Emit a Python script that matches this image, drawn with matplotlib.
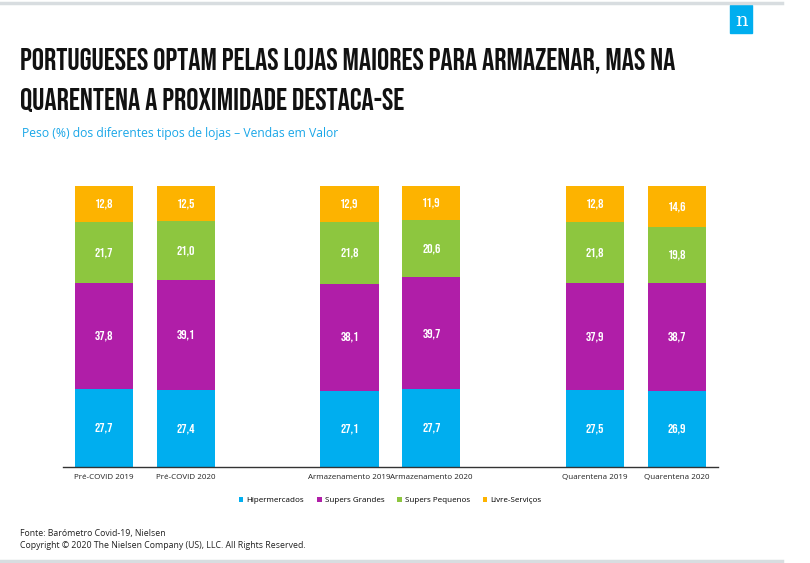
import numpy as np
import matplotlib.pyplot as plt
from matplotlib.patches import Rectangle

categories = ["Pré-COVID 2019", "Pré-COVID 2020", "Armazenamento 2019",
              "Armazenamento 2020", "Quarentena 2019", "Quarentena 2020"]
positions = [0, 1, 3, 4, 6, 7]
series = ["Hipermercados", "Supers Grandes", "Supers Pequenos", "Livre-Serviços"]
hiper = [27.7, 27.4, 27.1, 27.7, 27.5, 26.9]
supers_grandes = [37.8, 39.1, 38.1, 39.7, 37.9, 38.7]
supers_pequenos = [21.7, 21.0, 21.8, 20.6, 21.8, 19.8]
livre = [12.8, 12.5, 12.9, 11.9, 12.8, 14.6]
colors = ["#00AEEF", "#B01EA8", "#8DC63F", "#FDB300"]

COND = ["Bebas Neue", "Oswald", "DejaVu Sans"]
BODY = ["Open Sans", "DejaVu Sans"]

fig = plt.figure(figsize=(8.1, 5.63), dpi=100)
ax = fig.add_axes([0.078, 0.1705, 0.808, 0.4995])

bottom = np.zeros(len(positions))
for vals, name, c in zip([hiper, supers_grandes, supers_pequenos, livre], series, colors):
    bars = ax.bar(positions, vals, bottom=bottom, width=0.71, color=c, label=name)
    for b, v, y0 in zip(bars, vals, bottom):
        ax.text(b.get_x() + b.get_width() / 2, y0 + v / 2, f"{v:.1f}".replace(".", ","),
                ha="center", va="center", color="white", fontsize=9.5, family=COND)
    bottom += np.array(vals)

ax.set_xlim(-0.5, 7.5)
ax.set_ylim(0, 100)
ax.set_yticks([])
ax.set_xticks(positions)
ax.set_xticklabels(categories, fontsize=5.8, family=BODY, color="#222222")
ax.tick_params(axis="x", length=0, pad=5)
for s in ["top", "right", "left"]:
    ax.spines[s].set_visible(False)
ax.spines["bottom"].set_color("#333333")
ax.spines["bottom"].set_linewidth(1.0)

ax.legend(loc="upper center", bbox_to_anchor=(0.5, -0.08), ncol=4, frameon=False,
          prop={"family": BODY, "size": 5.8}, handlelength=0.55, handleheight=0.55,
          handletextpad=0.4, columnspacing=1.6)

# title and subtitle
fig.text(0.025, 0.893, "PORTUGUESES OPTAM PELAS LOJAS MAIORES PARA ARMAZENAR, MAS NA",
         fontsize=22, family=COND, va="center", color="#111111")
fig.text(0.025, 0.822, "QUARENTENA A PROXIMIDADE DESTACA-SE",
         fontsize=22, family=COND, va="center", color="#111111")
fig.text(0.027, 0.762, "Peso (%) dos diferentes tipos de lojas – Vendas em Valor",
         fontsize=8.7, family=BODY, color="#1AA7E8", va="center")

# footer
fig.text(0.025, 0.048, "Fonte: Barómetro Covid-19, Nielsen", fontsize=6.3, family=BODY, color="#222222")
fig.text(0.025, 0.027, "Copyright © 2020 The Nielsen Company (US), LLC. All Rights Reserved.",
         fontsize=6.3, family=BODY, color="#222222")

# decorations: top/bottom grey rules and logo
fig.add_artist(plt.Line2D([0, 0.965], [0.995, 0.995], color="#D8DDE0", lw=2.5))
fig.add_artist(plt.Line2D([0, 0.965], [0.004, 0.004], color="#D8DDE0", lw=2.5))
fig.add_artist(Rectangle((0.9015, 0.941), 0.027, 0.05, transform=fig.transFigure,
                         color="#00AEEF"))
fig.text(0.915, 0.963, "n", fontsize=14, family="DejaVu Serif", color="white",
         ha="center", va="center")

fig.savefig("out.png", dpi=100)
